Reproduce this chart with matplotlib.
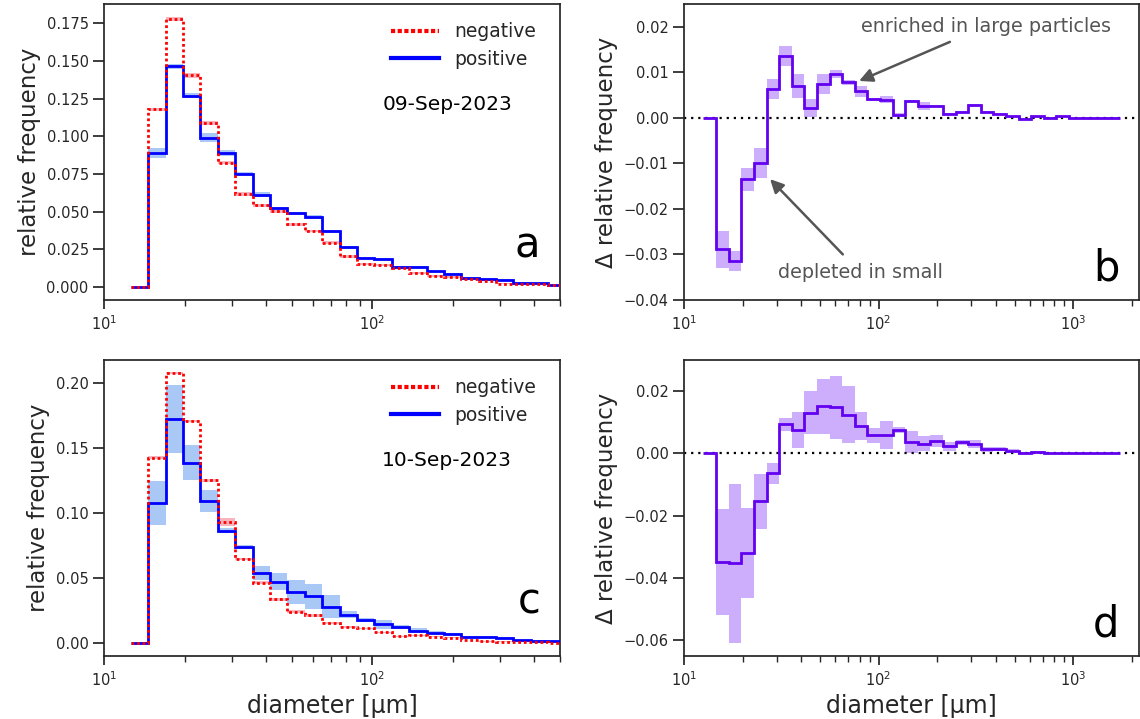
import matplotlib
matplotlib.use("Agg")
import matplotlib.pyplot as plt
from matplotlib.lines import Line2D
import numpy as np

# ---- data -------------------------------------------------------------
edges = [12.59, 14.62, 16.97, 19.70, 22.87, 26.55, 30.82, 35.78, 41.53, 48.22,
         55.98, 64.98, 75.44, 87.58, 101.7, 118.0, 137.0, 159.1, 184.7, 214.4,
         248.9, 288.9, 335.4, 389.4, 452.1, 524.8, 609.3, 707.3, 821.1, 953.3,
         1106.6, 1284.6, 1491.3, 1731.4]

# panel a (09-Sep-2023)
pos_a = [0, 0.0889, 0.1465, 0.127, 0.099, 0.0889, 0.075, 0.0613, 0.0522, 0.0487,
         0.0462, 0.037, 0.0263, 0.019, 0.0186, 0.0131, 0.0129, 0.0102, 0.0086, 0.006,
         0.0053, 0.0046, 0.0027, 0.0022, 0.0013]
pos_a_err = [0, 0.0035, 0.0017, 0.0015, 0.003, 0.0017, 0.001, 0.0015, 0.001, 0.001,
             0.0012, 0.001, 0.001, 0.0008, 0.0008, 0.0008, 0.0007, 0.0006, 0.0005, 0.0004,
             0.0004, 0.0003, 0.0003, 0.0002, 0.0002]
neg_a = [0, 0.118, 0.178, 0.1406, 0.109, 0.0825, 0.0615, 0.054, 0.0502, 0.0414,
         0.037, 0.0292, 0.0204, 0.0153, 0.0146, 0.0124, 0.0093, 0.0073, 0.0064, 0.0049,
         0.004, 0.002, 0.0016, 0.0018, 0.0013]
neg_a_err = [0, 0.001, 0.0012, 0.0016, 0.0012, 0.001, 0.0015, 0.0012, 0.0012, 0.0012,
             0.0008, 0.001, 0.001, 0.0008, 0.0008, 0.0006, 0.0007, 0.0006, 0.0005, 0.0004,
             0.0004, 0.0003, 0.0003, 0.0002, 0.0002]

# panel b (difference positive - negative, 09-Sep-2023)
delta_b = [0, -0.0289, -0.0314, -0.0135, -0.0099, 0.0064, 0.0136, 0.0070, 0.0021, 0.0074,
           0.0097, 0.0078, 0.0058, 0.0041, 0.0040, 0.0006, 0.0037, 0.0026, 0.0026, 0.00095,
           0.0012, 0.0029, 0.0012, 0.0008, 0.0003, -0.00015, 0.0003, 0.0, 0.0004, -0.0001,
           0.0, 0.0, 0.0]
delta_b_err = [0, 0.0041, 0.0022, 0.0025, 0.0032, 0.0022, 0.0022, 0.0027, 0.002, 0.0022,
               0.0009, 0.0005, 0.0012, 0.0003, 0.0008, 0.0005, 0.0003, 0.0009, 0.0003, 0.0002,
               0.0002, 0.0002, 0.0002, 0.0002, 0.0002, 0.0001, 0.0001, 0.0001, 0.0001, 0.0001,
               0.0001, 0.0001, 0.0001]

# panel c (10-Sep-2023)
pos_c = [0, 0.108, 0.1725, 0.1389, 0.1096, 0.0865, 0.0737, 0.0542, 0.0472, 0.0393,
         0.036, 0.028, 0.0218, 0.0175, 0.0144, 0.0123, 0.0095, 0.0079, 0.0072, 0.0049,
         0.0046, 0.0039, 0.0023, 0.0018, 0.0013]
pos_c_err = [0, 0.0168, 0.026, 0.0137, 0.0085, 0.002, 0.0015, 0.0053, 0.0067, 0.009,
             0.0098, 0.0088, 0.0029, 0.0015, 0.0037, 0.0015, 0.0021, 0.001, 0.0008, 0.0008,
             0.0006, 0.0006, 0.0004, 0.0003, 0.0002]
neg_c = [0, 0.1427, 0.208, 0.171, 0.1253, 0.093, 0.0647, 0.0465, 0.0336, 0.0241,
         0.0213, 0.0157, 0.0126, 0.0113, 0.0082, 0.0051, 0.0059, 0.0049, 0.0041, 0.0023,
         0.0013, 0.001, 0.001, 0.0005, 0.0002]
neg_c_err = [0, 0.001, 0.001, 0.001, 0.001, 0.003, 0.001, 0.001, 0.001, 0.001,
             0.001, 0.0008, 0.0008, 0.0006, 0.0006, 0.0005, 0.0005, 0.0004, 0.0004, 0.0003,
             0.0003, 0.0002, 0.0002, 0.0002, 0.0002]

# panel d (difference, 10-Sep-2023)
delta_d = [0, -0.0347, -0.0352, -0.032, -0.0153, -0.0063, 0.0093, 0.0076, 0.0131, 0.0152,
           0.0148, 0.0125, 0.0089, 0.0058, 0.006, 0.0075, 0.0037, 0.0032, 0.004, 0.0023,
           0.0036, 0.0029, 0.0013, 0.0015, 0.0009, 0.0003, 0.0005, 0.0001, 0.0, 0.0,
           0.0, 0.0, 0.0]
delta_d_err = [0, 0.017, 0.0255, 0.0145, 0.0088, 0.0034, 0.0022, 0.0057, 0.007, 0.0088,
               0.01, 0.009, 0.0045, 0.0023, 0.0045, 0.0009, 0.0036, 0.0025, 0.002, 0.0015,
               0.0008, 0.0013, 0.0007, 0.0007, 0.0004, 0.0003, 0.0002, 0.0002, 0.0001, 0.0001,
               0.0001, 0.0001, 0.0001]

dates = ["09-Sep-2023", "10-Sep-2023"]
panel_letters = ["a", "b", "c", "d"]

# ---- style ------------------------------------------------------------
DARK = "#262626"
plt.rcParams.update({
    "font.family": ["DejaVu Sans"],
    "text.color": DARK,
    "axes.edgecolor": DARK,
    "axes.labelcolor": DARK,
    "xtick.color": DARK,
    "ytick.color": DARK,
    "axes.linewidth": 1.25,
    "xtick.direction": "out",
    "ytick.direction": "out",
    "xtick.major.size": 6.5,
    "ytick.major.size": 8,
    "xtick.minor.size": 4,
    "ytick.minor.size": 4,
    "xtick.major.width": 1.25,
    "ytick.major.width": 1.25,
    "xtick.minor.width": 1.0,
    "ytick.minor.width": 1.0,
    "xtick.labelsize": 10.5,
    "ytick.labelsize": 10.5,
    "xtick.major.pad": 3.5,
    "ytick.major.pad": 3.0,
})

BLUE = "#0000ff"
BLUE_BAND = "#aac8f6"
RED = "#ff0000"
RED_BAND = "#f8b4bc"
PURPLE = "#6200f0"
PURPLE_BAND = "#ccaefc"

W, H = 1140, 719
fig = plt.figure(figsize=(W / 100, H / 100), dpi=100)


def add_ax(l, t, r, b):
    return fig.add_axes([l / W, 1 - b / H, (r - l) / W, (b - t) / H])


axA = add_ax(104, 4, 560, 300)
axB = add_ax(684, 4, 1139, 300)
axC = add_ax(104, 360, 560, 656)
axD = add_ax(684, 360, 1139, 656)

LABEL_FS = 16.5


def dist_panel(ax, pos, pos_err, neg, neg_err, date, ylim):
    n = len(pos)
    e = np.array(edges[:n + 1])
    p, pe = np.array(pos), np.array(pos_err)
    q, qe = np.array(neg), np.array(neg_err)
    ax.stairs(p + pe, e, baseline=p - pe, fill=True, color=BLUE_BAND, lw=0, zorder=1)
    ax.stairs(q + qe, e, baseline=q - qe, fill=True, color=RED_BAND, lw=0, zorder=1)
    ax.stairs(p, e, baseline=None, color=BLUE, lw=2, zorder=3)
    ax.stairs(q, e, baseline=None, color=RED, lw=2, ls=(0, (1, 1)), zorder=4)
    ax.set_xscale("log")
    ax.set_xlim(10, 500)
    ax.set_ylim(*ylim)
    ax.set_ylabel("relative frequency", fontsize=LABEL_FS)
    h_neg = Line2D([], [], color=RED, lw=3, ls=(0, (1, 0.6)))
    h_pos = Line2D([], [], color=BLUE, lw=3)
    ax.legend([h_neg, h_pos], ["negative", "positive"], loc="upper right",
              bbox_to_anchor=(0.985, 0.995), frameon=False, fontsize=13.5,
              handlelength=2.6, handletextpad=0.8, labelspacing=0.45)
    ax.text(0.61, 0.66, date, transform=ax.transAxes, fontsize=14.5,
            color="black", ha="left", va="center")


def delta_panel(ax, delta, err, ylim, yticks):
    e = np.array(edges)
    d, de = np.array(delta), np.array(err)
    ax.stairs(d + de, e, baseline=d - de, fill=True, color=PURPLE_BAND, lw=0, zorder=1)
    ax.stairs(d, e, baseline=None, color=PURPLE, lw=2, zorder=3)
    ax.axhline(0, color="black", lw=1.6, ls=(0, (1, 2.2)), zorder=2)
    ax.set_xscale("log")
    ax.set_xlim(10, 2180)
    ax.set_ylim(*ylim)
    ax.set_yticks(yticks)
    ax.set_ylabel("\u0394 relative frequency", fontsize=LABEL_FS)


dist_panel(axA, pos_a, pos_a_err, neg_a, neg_a_err, dates[0], (-0.0088, 0.1879))
dist_panel(axC, pos_c, pos_c_err, neg_c, neg_c_err, dates[1], (-0.010, 0.218))
delta_panel(axB, delta_b, delta_b_err, (-0.04, 0.025), [-0.04, -0.03, -0.02, -0.01, 0.0, 0.01, 0.02])
delta_panel(axD, delta_d, delta_d_err, (-0.065, 0.03), [-0.06, -0.04, -0.02, 0.0, 0.02])

axA.set_yticks([0.0, 0.025, 0.05, 0.075, 0.1, 0.125, 0.15, 0.175])
axC.set_yticks([0.0, 0.05, 0.1, 0.15, 0.2])

axC.set_xlabel("diameter [\u03bcm]", fontsize=17)
axD.set_xlabel("diameter [\u03bcm]", fontsize=17)

# panel letters
for ax, letter, y in [(axA, "a", 0.145), (axB, "b", 0.067), (axC, "c", 0.145), (axD, "d", 0.067)]:
    ax.text(0.957, y, letter, transform=ax.transAxes, fontsize=30,
            color="black", ha="right", va="baseline")

# annotations on panel b
GREY = "#555555"
axB.annotate("enriched in large particles", xy=(79.4, 0.0081), xytext=(81.3, 0.0201),
             fontsize=13.8, color=GREY, ha="left", va="center",
             arrowprops=dict(arrowstyle="-|>", color=GREY, lw=1.8, mutation_scale=20,
                             shrinkA=6, shrinkB=0))
axB.annotate("depleted in small", xy=(27.7, -0.01346), xytext=(30.43, -0.0340),
             fontsize=13.8, color=GREY, ha="left", va="center",
             arrowprops=dict(arrowstyle="-|>", color=GREY, lw=1.8, mutation_scale=20,
                             shrinkA=6, shrinkB=0))

fig.savefig("out.png", dpi=100)
